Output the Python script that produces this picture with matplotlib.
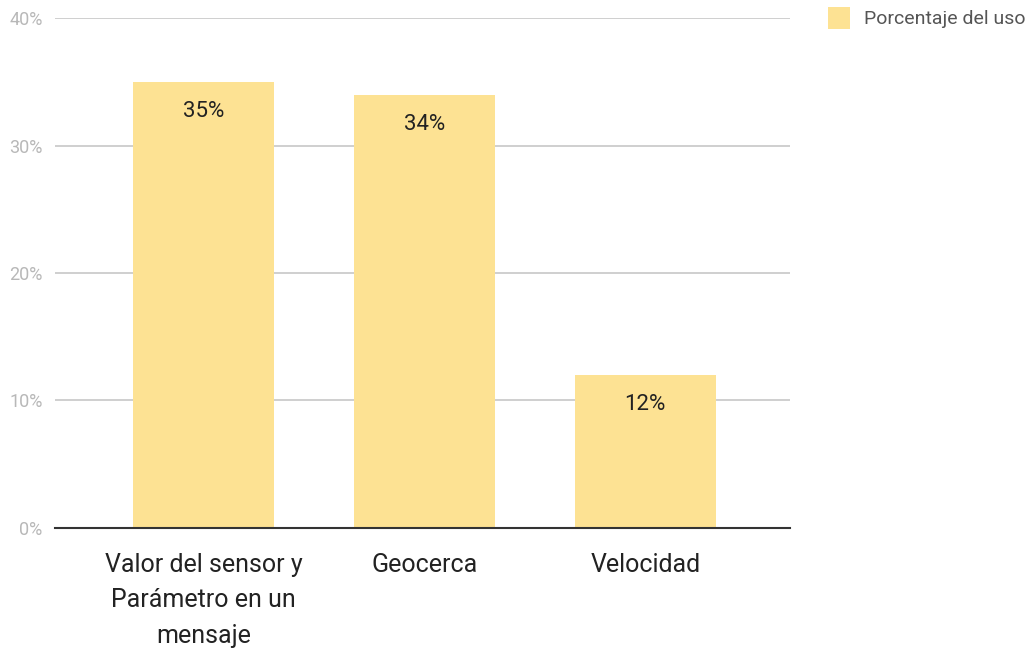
import matplotlib.pyplot as plt
from matplotlib.patches import Patch

# --- Data ---
categories = ["Valor del sensor y\nParámetro en un\nmensaje", "Geocerca", "Velocidad"]
values = [35, 34, 12]
series_name = "Porcentaje del uso"
y_ticks = [0, 10, 20, 30, 40]

plt.rcParams['font.family'] = ['Roboto', 'DejaVu Sans']

bar_color = "#FDE293"

fig = plt.figure(figsize=(10.31, 6.5), dpi=100)
ax = fig.add_axes([0.0533, 0.1877, 0.7127, 0.7846])

x = list(range(len(categories)))
ax.bar(x, values, width=0.64, color=bar_color, zorder=2)

# value labels inside the bars
for xi, v in zip(x, values):
    ax.text(xi, v - 1.5, f"{v}%", ha='center', va='top', fontsize=16,
            color="#222222", zorder=3)

ax.set_xlim(-0.672, 2.654)
ax.set_ylim(0, 40)
ax.set_yticks(y_ticks)
ax.set_yticklabels([f"{t}%" for t in y_ticks], fontsize=13, color="#b8b8b8")
ax.set_xticks(x)
ax.set_xticklabels(categories, fontsize=18, color="#222222", linespacing=1.6)

ax.grid(axis='y', color="#cccccc", linewidth=1.3, zorder=0)
ax.tick_params(axis='both', length=0)
ax.tick_params(axis='y', pad=9)
ax.tick_params(axis='x', pad=18)

for side in ['top', 'right', 'left']:
    ax.spines[side].set_visible(False)
ax.spines['bottom'].set_color("#333333")
ax.spines['bottom'].set_linewidth(1.5)
ax.spines['bottom'].set_zorder(3)

handle = Patch(facecolor=bar_color, edgecolor='none', label=series_name)
fig.legend(handles=[handle], loc='upper left', bbox_to_anchor=(0.803, 0.99),
           frameon=False, fontsize=14, handlelength=1.15, handleheight=1.4,
           handletextpad=0.7, borderpad=0, borderaxespad=0,
           labelcolor="#555555")

fig.savefig("out.png", dpi=100)
